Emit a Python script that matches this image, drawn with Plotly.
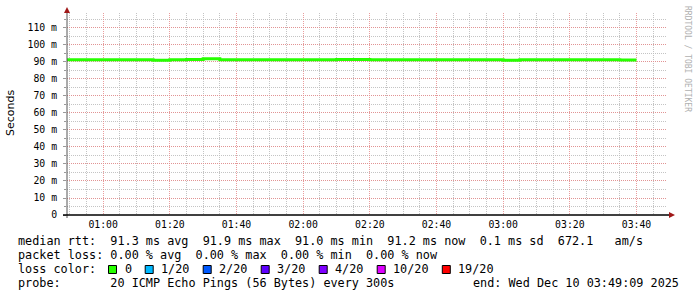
import plotly.graph_objects as go

# ---------------- data ----------------
times = [
    "2025-12-10 00:45", "2025-12-10 00:50", "2025-12-10 00:55", "2025-12-10 01:00",
    "2025-12-10 01:05", "2025-12-10 01:10", "2025-12-10 01:15", "2025-12-10 01:20",
    "2025-12-10 01:25", "2025-12-10 01:30", "2025-12-10 01:35", "2025-12-10 01:40",
    "2025-12-10 01:45", "2025-12-10 01:50", "2025-12-10 01:55", "2025-12-10 02:00",
    "2025-12-10 02:05", "2025-12-10 02:10", "2025-12-10 02:15", "2025-12-10 02:20",
    "2025-12-10 02:25", "2025-12-10 02:30", "2025-12-10 02:35", "2025-12-10 02:40",
    "2025-12-10 02:45", "2025-12-10 02:50", "2025-12-10 02:55", "2025-12-10 03:00",
    "2025-12-10 03:05", "2025-12-10 03:10", "2025-12-10 03:15", "2025-12-10 03:20",
    "2025-12-10 03:25", "2025-12-10 03:30", "2025-12-10 03:35", "2025-12-10 03:40",
]
median_rtt_ms = [
    91.3, 91.3, 91.3, 91.3, 91.3, 91.3, 91.3, 91.0,
    91.3, 91.4, 91.9, 91.3, 91.3, 91.3, 91.3, 91.3,
    91.3, 91.3, 91.4, 91.4, 91.3, 91.3, 91.3, 91.3,
    91.3, 91.3, 91.3, 91.3, 91.0, 91.3, 91.3, 91.3,
    91.3, 91.3, 91.3, 91.2,
]
y_tick_vals = [0, 0.01, 0.02, 0.03, 0.04, 0.05, 0.06, 0.07, 0.08, 0.09, 0.10, 0.11]
y_tick_text = ["0", "10 m", "20 m", "30 m", "40 m", "50 m", "60 m", "70 m",
               "80 m", "90 m", "100 m", "110 m"]
x_start = "2025-12-10 00:49:09"
x_end = "2025-12-10 03:49:09"
y_max = 0.1188

legend_rows = [
    "median rtt:  91.3 ms avg  91.9 ms max  91.0 ms min  91.2 ms now  0.1 ms sd  672.1   am/s",
    "packet loss: 0.00 % avg  0.00 % max  0.00 % min  0.00 % now",
]
loss_labels = ["0", "1/20", "2/20", "3/20", "4/20", "10/20", "19/20"]
loss_colors = ["#26ff00", "#00b8ff", "#0059ff", "#5e00ff", "#7e00ff", "#dd00ff", "#ff0000"]
probe_text = "probe:       20 ICMP Echo Pings (56 Bytes) every 300s"
end_text = "end: Wed Dec 10 03:49:09 2025"

# ---------------- layout geometry (pixels) ----------------
W, H = 697, 297
L, R, T, B = 67, 30, 13, 82
PW, PH = W - L - R, H - T - B


def px(x):
    return (x - L) / PW


def py(y):
    return (H - B - y) / PH


def nb(s):
    return s.replace(" ", "\u00a0")


MONO = "DejaVu Sans Mono"
FS = 11.8
CW = 7.1  # char width of legend font

fig = go.Figure()
fig.add_trace(go.Scatter(
    x=times, y=[v / 1000 for v in median_rtt_ms],
    mode="lines", line=dict(color=loss_colors[0], width=3, shape="vh"),
    hoverinfo="skip", showlegend=False,
))

red_grid = "rgba(230,140,140,0.85)"
gray_grid = "rgba(190,190,190,0.9)"

fig.update_layout(
    width=W, height=H,
    margin=dict(l=L, r=R, t=T, b=B, pad=0),
    paper_bgcolor="white", plot_bgcolor="white",
    showlegend=False,
    xaxis=dict(
        type="date", range=[x_start, x_end],
        tick0="2025-12-10 01:00", dtick=20 * 60 * 1000, tickformat="%H:%M",
        showgrid=True, gridcolor=red_grid, griddash="1px,1px", gridwidth=1,
        minor=dict(dtick=5 * 60 * 1000, tick0="2025-12-10 01:00", showgrid=True,
                   gridcolor=gray_grid, griddash="1px,1px", gridwidth=1),
        showline=False, zeroline=False, ticks="",
        tickfont=dict(family=MONO, size=9.8, color="#000000"),
        ticklabelstandoff=2,
    ),
    yaxis=dict(
        range=[0, y_max], tickmode="array", tickvals=y_tick_vals, ticktext=y_tick_text,
        showgrid=True, gridcolor=red_grid, griddash="1px,1px", gridwidth=1,
        minor=dict(tickmode="linear", tick0=0, dtick=0.005, showgrid=True,
                   gridcolor=gray_grid, griddash="1px,1px", gridwidth=1,
                   ticks="outside", ticklen=2, tickcolor="#999999"),
        ticks="outside", ticklen=3, tickcolor="#999999",
        showline=False, zeroline=False,
        tickfont=dict(family=MONO, size=9.8, color="#000000"),
        ticklabelstandoff=4,
    ),
)

shapes = []
# axes lines
shapes.append(dict(type="line", xref="paper", yref="paper",
                   x0=px(L), x1=px(L), y0=py(H - B + 3), y1=py(12),
                   line=dict(color="#555555", width=1)))
shapes.append(dict(type="line", xref="paper", yref="paper",
                   x0=px(L - 4), x1=px(670), y0=py(H - B), y1=py(H - B),
                   line=dict(color="#000000", width=1.5)))
# arrows
shapes.append(dict(type="path", xref="paper", yref="paper",
                   path=f"M {px(L-3)} {py(13)} L {px(L+3)} {py(13)} L {px(L)} {py(7)} Z",
                   fillcolor="#a01818", line=dict(width=0)))
shapes.append(dict(type="path", xref="paper", yref="paper",
                   path=f"M {px(669)} {py(H-B-3)} L {px(669)} {py(H-B+3)} L {px(675)} {py(H-B)} Z",
                   fillcolor="#a01818", line=dict(width=0)))

annotations = []
# y title
annotations.append(dict(text="Seconds", xref="paper", yref="paper", x=px(10), y=py(113),
                        textangle=-90, showarrow=False, xanchor="center", yanchor="middle",
                        font=dict(family="DejaVu Sans", size=11, color="#000000")))
# watermark
annotations.append(dict(text="RRDTOOL / TOBI OETIKER", xref="paper", yref="paper",
                        x=px(687), y=py(59), textangle=90, showarrow=False,
                        xanchor="center", yanchor="middle",
                        font=dict(family=MONO, size=8, color="#b0b0b0")))

LX = 16.5
row_y = [241.5, 255.2, 269, 282.7]
for i, t in enumerate(legend_rows):
    annotations.append(dict(text=nb(t), xref="paper", yref="paper", x=px(LX - 1), y=py(row_y[i]),
                            showarrow=False, xanchor="left", yanchor="middle",
                            font=dict(family=MONO, size=FS, color="#000000")))
annotations.append(dict(text=nb("loss color:"), xref="paper", yref="paper", x=px(LX - 1),
                        y=py(row_y[2]), showarrow=False, xanchor="left", yanchor="middle",
                        font=dict(family=MONO, size=FS, color="#000000")))
sx = 108.5
for lab, col in zip(loss_labels, loss_colors):
    shapes.append(dict(type="rect", xref="paper", yref="paper",
                       x0=px(sx), x1=px(sx + 8), y0=py(273.5), y1=py(265.5),
                       fillcolor=col, line=dict(color="#000000", width=1)))
    lx = sx + 15
    annotations.append(dict(text=nb(lab), xref="paper", yref="paper", x=px(lx - 1), y=py(row_y[2]),
                            showarrow=False, xanchor="left", yanchor="middle",
                            font=dict(family=MONO, size=FS, color="#000000")))
    sx = lx + len(lab) * CW + 14.6
annotations.append(dict(text=nb(probe_text), xref="paper", yref="paper", x=px(LX - 1),
                        y=py(row_y[3]), showarrow=False, xanchor="left", yanchor="middle",
                        font=dict(family=MONO, size=FS, color="#000000")))
annotations.append(dict(text=nb(end_text), xref="paper", yref="paper", x=px(681),
                        y=py(row_y[3]), showarrow=False, xanchor="right", yanchor="middle",
                        font=dict(family=MONO, size=FS, color="#000000")))

fig.update_layout(shapes=shapes, annotations=annotations)
fig.write_html("out.html")
